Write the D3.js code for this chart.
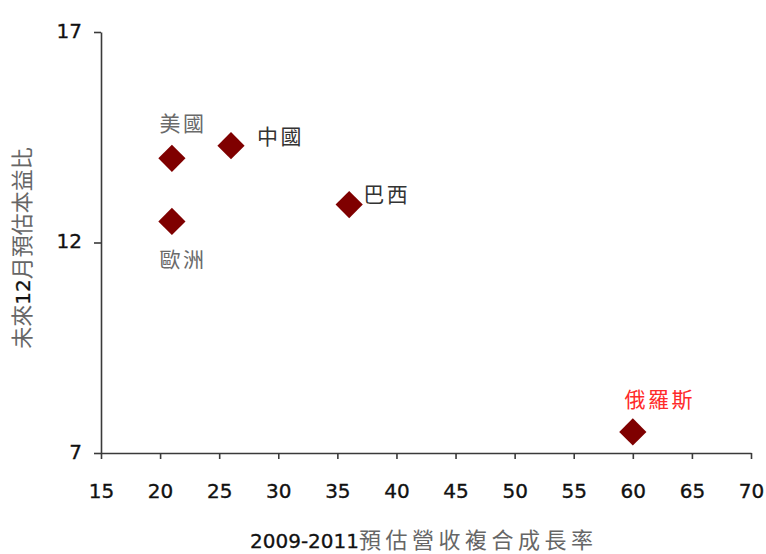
<!DOCTYPE html>
<html>
<head>
<meta charset="utf-8">
<script src="https://cdn.jsdelivr.net/npm/d3@7/dist/d3.min.js"></script>
<style>
  html, body { margin: 0; padding: 0; background: #fff; }
  svg { display: block; }
</style>
</head>
<body>
<svg id="chart" width="766" height="554"></svg>
<script>
// Markets: forecast 2009-2011 revenue CAGR (%) vs. forward 12-month P/E
const markets = ["美國", "中國", "巴西", "歐洲", "俄羅斯"];
const growth  = [21, 26, 36, 21, 60];
const peRatio = [14.0, 14.3, 12.9, 12.5, 7.5];

const xTicks = [15, 20, 25, 30, 35, 40, 45, 50, 55, 60, 65, 70];
const yTicks = [7, 12, 17];

const xTitleNum = "2009-2011";
const xTitleText = "預估營收複合成長率";
const yTitleParts = ["未來", "12", "月預估本益比"];

// label placement and colour per market
const labelStyle = {
  "美國":   { dx: 11,  dy: -27, anchor: "middle", color: "#6a6a6a" },
  "中國":   { dx: 26,  dy: -2,  anchor: "start",  color: "#333" },
  "巴西":   { dx: 14,  dy: -3,  anchor: "start",  color: "#333" },
  "歐洲":   { dx: 11,  dy: 46,  anchor: "middle", color: "#6a6a6a" },
  "俄羅斯": { dx: 27,  dy: -25, anchor: "middle", color: "#ff2a2a" }
};

const svg = d3.select("#chart");
const cjk = "'Noto Sans CJK TC', 'Noto Sans CJK SC', sans-serif";
const num = "'DejaVu Sans', sans-serif";

const x = d3.scaleLinear().domain([15, 70]).range([101, 751]);
const y = d3.scaleLinear().domain([7, 17]).range([453, 32]);

// x axis
const gx = svg.append("g")
  .attr("transform", `translate(0,${y(7)})`)
  .call(d3.axisBottom(x).tickValues(xTicks).tickSize(6).tickSizeOuter(0).tickPadding(25).tickFormat(d3.format("d")));

// y axis
const gy = svg.append("g")
  .attr("transform", `translate(${x(15)},0)`)
  .call(d3.axisLeft(y).tickValues(yTicks).tickSize(7).tickSizeOuter(0).tickPadding(12).tickFormat(d3.format("d")));

[gx, gy].forEach(g => {
  g.select(".domain").attr("stroke", "#3a3a3a").attr("stroke-width", 1.6);
  g.selectAll(".tick line").attr("stroke", "#3a3a3a").attr("stroke-width", 1.6);
  g.selectAll(".tick text")
    .attr("fill", "#111")
    .attr("stroke", "#111")
    .attr("stroke-width", 0.35)
    .style("font-family", num)
    .style("font-size", "20px");
});
gy.selectAll(".tick text").attr("dy", "0.25em");

// data points: diamonds
const diamond = d3.symbol().type(d3.symbolSquare).size(370);
const pts = markets.map((m, i) => ({ name: m, gx: growth[i], pe: peRatio[i] }));

svg.append("g").selectAll("path")
  .data(pts)
  .join("path")
  .attr("d", diamond)
  .attr("transform", d => `translate(${x(d.gx)},${y(d.pe)}) rotate(45)`)
  .attr("fill", "#7f0000");

// point labels
svg.append("g").selectAll("text")
  .data(pts)
  .join("text")
  .attr("x", d => x(d.gx) + labelStyle[d.name].dx)
  .attr("y", d => y(d.pe) + labelStyle[d.name].dy)
  .attr("text-anchor", d => labelStyle[d.name].anchor)
  .attr("fill", d => labelStyle[d.name].color)
  .style("font-family", cjk)
  .style("font-size", "21px")
  .style("letter-spacing", "2.5px")
  .text(d => d.name);

// x axis title
const xt = svg.append("text")
  .attr("x", 250)
  .attr("y", 548)
  .style("font-size", "20px");
xt.append("tspan").style("font-family", num).attr("fill", "#111")
  .attr("stroke", "#111").attr("stroke-width", 0.3).text(xTitleNum);
xt.append("tspan").style("font-family", cjk).style("font-size", "22px")
  .style("letter-spacing", "4.5px").attr("fill", "#666").text(xTitleText);

// y axis title
const yt = svg.append("text")
  .attr("transform", "translate(30,248) rotate(-90)")
  .attr("text-anchor", "middle");
yt.append("tspan").style("font-family", cjk).style("font-size", "22px").attr("fill", "#666").text(yTitleParts[0]);
yt.append("tspan").style("font-family", num).style("font-size", "20px").attr("fill", "#111")
  .attr("stroke", "#111").attr("stroke-width", 0.3).text(yTitleParts[1]);
yt.append("tspan").style("font-family", cjk).style("font-size", "22px").attr("fill", "#666").text(yTitleParts[2]);
</script>
</body>
</html>
